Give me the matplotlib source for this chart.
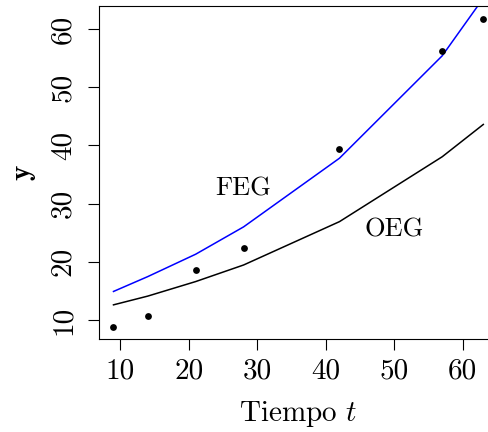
import matplotlib
matplotlib.use("Agg")
import matplotlib.pyplot as plt

plt.rcParams['font.family'] = ['cmr10', 'DejaVu Serif']
plt.rcParams['mathtext.fontset'] = 'cm'
plt.rcParams['axes.unicode_minus'] = False
plt.rcParams['axes.formatter.use_mathtext'] = True

t = [9, 14, 21, 28, 42, 57, 63]
y_obs = [8.85, 10.75, 18.6, 22.35, 39.35, 56.15, 61.8]
feg = [14.9, 17.45, 21.3, 26.0, 37.8, 55.4, 65.3]
oeg = [12.6, 14.1, 16.6, 19.45, 26.9, 38.05, 43.6]
xticks = [10, 20, 30, 40, 50, 60]
yticks = [10, 20, 30, 40, 50, 60]

W, H = 488, 432
fig = plt.figure(figsize=(W / 100, H / 100), dpi=100)

xmin, xmax = 6.84, 65.16
ymin, ymax = 6.73, 63.92
left_px, right_px = 98.7, 498.1
top_px, bottom_px = 6.2, 339.0
ax = fig.add_axes([left_px / W, 1 - bottom_px / H,
                   (right_px - left_px) / W, (bottom_px - top_px) / H])

ax.plot(t, feg, color='#0000ff', lw=1.1)
ax.plot(t, oeg, color='black', lw=1.1)
ax.plot(t, y_obs, 'o', color='black', ms=4.9, mew=0)

ax.text(28, 32.6, 'FEG', ha='center', va='center', fontsize=19)
ax.text(50, 25.6, 'OEG', ha='center', va='center', fontsize=19)

ax.set_xlim(xmin, xmax)
ax.set_ylim(ymin, ymax)
ax.set_xticks(xticks)
ax.set_yticks(yticks)
ax.set_xticklabels([str(v) for v in xticks])
ax.set_yticklabels([str(v) for v in yticks], rotation=90, va='center')
ax.tick_params(direction='out', length=8, width=0.8, labelsize=21, pad=6)
ax.tick_params(axis='y', pad=8)
for s in ax.spines.values():
    s.set_linewidth(0.8)

ax.set_xlabel('Tiempo $t$', fontsize=21, labelpad=10)
ax.set_ylabel(r'$\mathbf{y}$', fontsize=21, labelpad=9)

fig.savefig('out.png', dpi=100)
